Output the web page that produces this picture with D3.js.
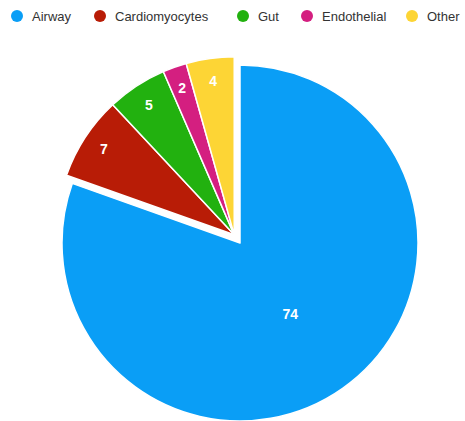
<!DOCTYPE html>
<html><head><meta charset="utf-8">
<script src="https://cdn.jsdelivr.net/npm/d3@7"></script>
<style>body{margin:0;background:#fff;} svg{display:block;}</style>
</head><body>
<svg id="c" width="465" height="421"></svg>
<script>
const categories = ["Airway", "Cardiomyocytes", "Gut", "Endothelial", "Other"];
const values = [74, 7, 5, 2, 4];
const colors = ["#0a9ef6", "#b81c06", "#22b10f", "#d41f80", "#fdd535"];

const svg = d3.select("#c");
const cx = 240, cy = 243, R = 178;

const data = categories.map((c, i) => ({cat: c, value: values[i], color: colors[i]}));
const pie = d3.pie().value(d => d.value).sort(null);
const arcs = pie(data);
const arc = d3.arc().innerRadius(0).outerRadius(R);

// the small slices are pulled out together along their common mid-angle
const small = arcs.slice(1);
const gStart = small[0].startAngle, gEnd = small[small.length - 1].endAngle;
const gMid = (gStart + gEnd) / 2, off = 10;
const gdx = Math.sin(gMid) * off, gdy = -Math.cos(gMid) * off;

const g = svg.append("g").attr("transform", `translate(${cx},${cy})`);
arcs.forEach((a, i) => {
  const dx = i === 0 ? 0 : gdx, dy = i === 0 ? 0 : gdy;
  const sg = g.append("g").attr("transform", `translate(${dx},${dy})`);
  sg.append("path").attr("d", arc(a)).attr("fill", a.data.color)
    .attr("stroke", "#fff").attr("stroke-width", 1.5).attr("stroke-linejoin", "round");
  const m = (a.startAngle + a.endAngle) / 2;
  const lr = (a.endAngle - a.startAngle) > 1 ? R * 0.49 : R * 0.875;
  sg.append("text")
    .attr("x", Math.sin(m) * lr).attr("y", -Math.cos(m) * lr)
    .attr("text-anchor", "middle").attr("dominant-baseline", "central")
    .attr("fill", "#fff").attr("font-family", "Liberation Sans, Arial, sans-serif")
    .attr("font-size", 14).attr("font-weight", "bold")
    .text(a.data.value);
});

// legend
const legendX = [17, 100, 243, 307, 412];
const lg = svg.append("g");
categories.forEach((c, i) => {
  lg.append("circle").attr("cx", legendX[i]).attr("cy", 16).attr("r", 6).attr("fill", colors[i]);
  lg.append("text").attr("x", legendX[i] + 15).attr("y", 16)
    .attr("dominant-baseline", "central")
    .attr("font-family", "Liberation Sans, Arial, sans-serif").attr("font-size", 13)
    .attr("fill", "#333").text(c);
});
</script>
</body></html>
